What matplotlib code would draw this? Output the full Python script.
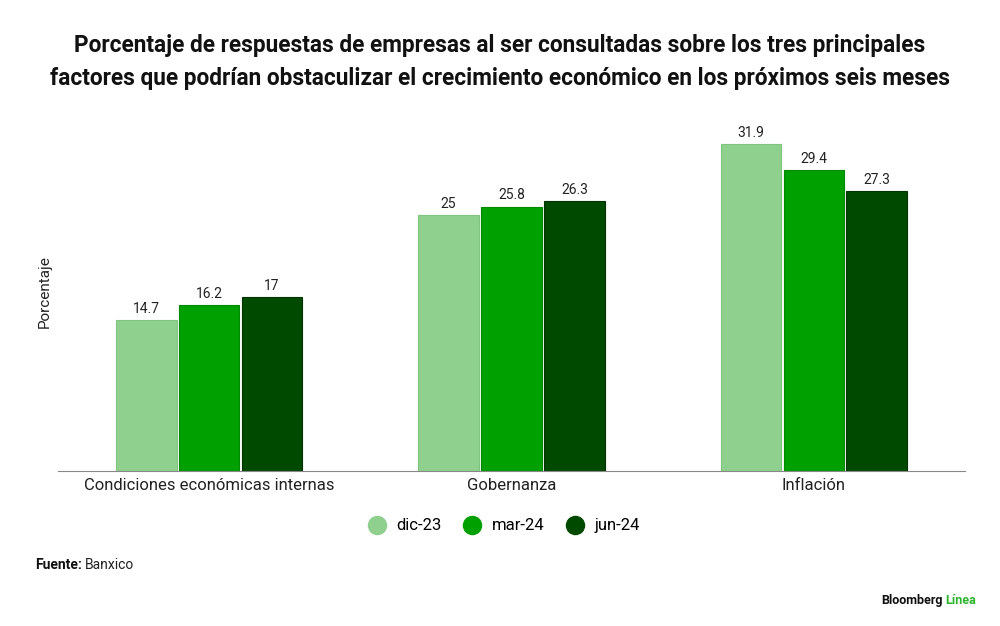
import numpy as np
import matplotlib.pyplot as plt
from matplotlib.lines import Line2D

categories = ["Condiciones económicas internas", "Gobernanza", "Inflación"]
series_names = ["dic-23", "mar-24", "jun-24"]
dic23 = [14.7, 25, 31.9]
mar24 = [16.2, 25.8, 29.4]
jun24 = [17, 26.3, 27.3]
labels = [["14.7", "25", "31.9"], ["16.2", "25.8", "29.4"], ["17", "26.3", "27.3"]]

colors = ["#8fd08f", "#00a000", "#004a00"]
edges = ["#7fc47f", "#008a00", "#003300"]

plt.rcParams['font.family'] = ['Roboto', 'DejaVu Sans']

fig = plt.figure(figsize=(10, 6.26), dpi=100)
ax = fig.add_axes([0.058, 0.2476, 0.907, 0.56])

x = np.arange(len(categories))
w = 0.2
step = 0.208
for i, vals in enumerate([dic23, mar24, jun24]):
    pos = x + (i - 1) * step
    ax.bar(pos, vals, width=w, color=colors[i], edgecolor=edges[i], linewidth=0.8)
    for p, v, t in zip(pos, vals, labels[i]):
        ax.text(p, v + 0.4, t, ha='center', va='bottom', fontsize=10, color='#222222')

ax.set_xlim(-0.5, 2.5)
ax.set_ylim(0, 34.2)
ax.set_xticks(x)
ax.set_xticklabels(categories, fontsize=12, color='#222222')
ax.tick_params(axis='x', length=0, pad=5)
ax.set_yticks([])
for s in ['top', 'right', 'left']:
    ax.spines[s].set_visible(False)
ax.spines['bottom'].set_color('#888888')
ax.spines['bottom'].set_linewidth(0.8)

fig.text(0.045, 0.535, "Porcentaje", rotation=90, ha='center', va='center', fontsize=11, color='#222222')

# two-line bold title
fig.text(0.5, 0.928, "Porcentaje de respuestas de empresas al ser consultadas sobre los tres principales",
         ha='center', va='center', fontsize=16.3, fontweight='bold', color='#111111')
fig.text(0.5, 0.875, "factores que podrían obstaculizar el crecimiento económico en los próximos seis meses",
         ha='center', va='center', fontsize=16.3, fontweight='bold', color='#111111')

handles = [Line2D([0], [0], marker='o', linestyle='', markersize=13,
                  markerfacecolor=c, markeredgecolor=c) for c in colors]
fig.legend(handles, series_names, loc='center', bbox_to_anchor=(0.5, 0.16), ncol=3,
           frameon=False, fontsize=12, handletextpad=0.2, columnspacing=0.8)

fig.text(0.035, 0.097, "Fuente:", fontsize=10, fontweight='bold', ha='left', va='center', color='#111111')
fig.text(0.085, 0.097, "Banxico", fontsize=10, ha='left', va='center', color='#222222')

fig.text(0.943, 0.04, "Bloomberg", fontsize=9, fontweight='bold', ha='right', va='center', color='#111111')
fig.text(0.945, 0.04, "Línea", fontsize=9, fontweight='bold', ha='left', va='center', color='#2db52d')

fig.savefig("out.png", dpi=100)
